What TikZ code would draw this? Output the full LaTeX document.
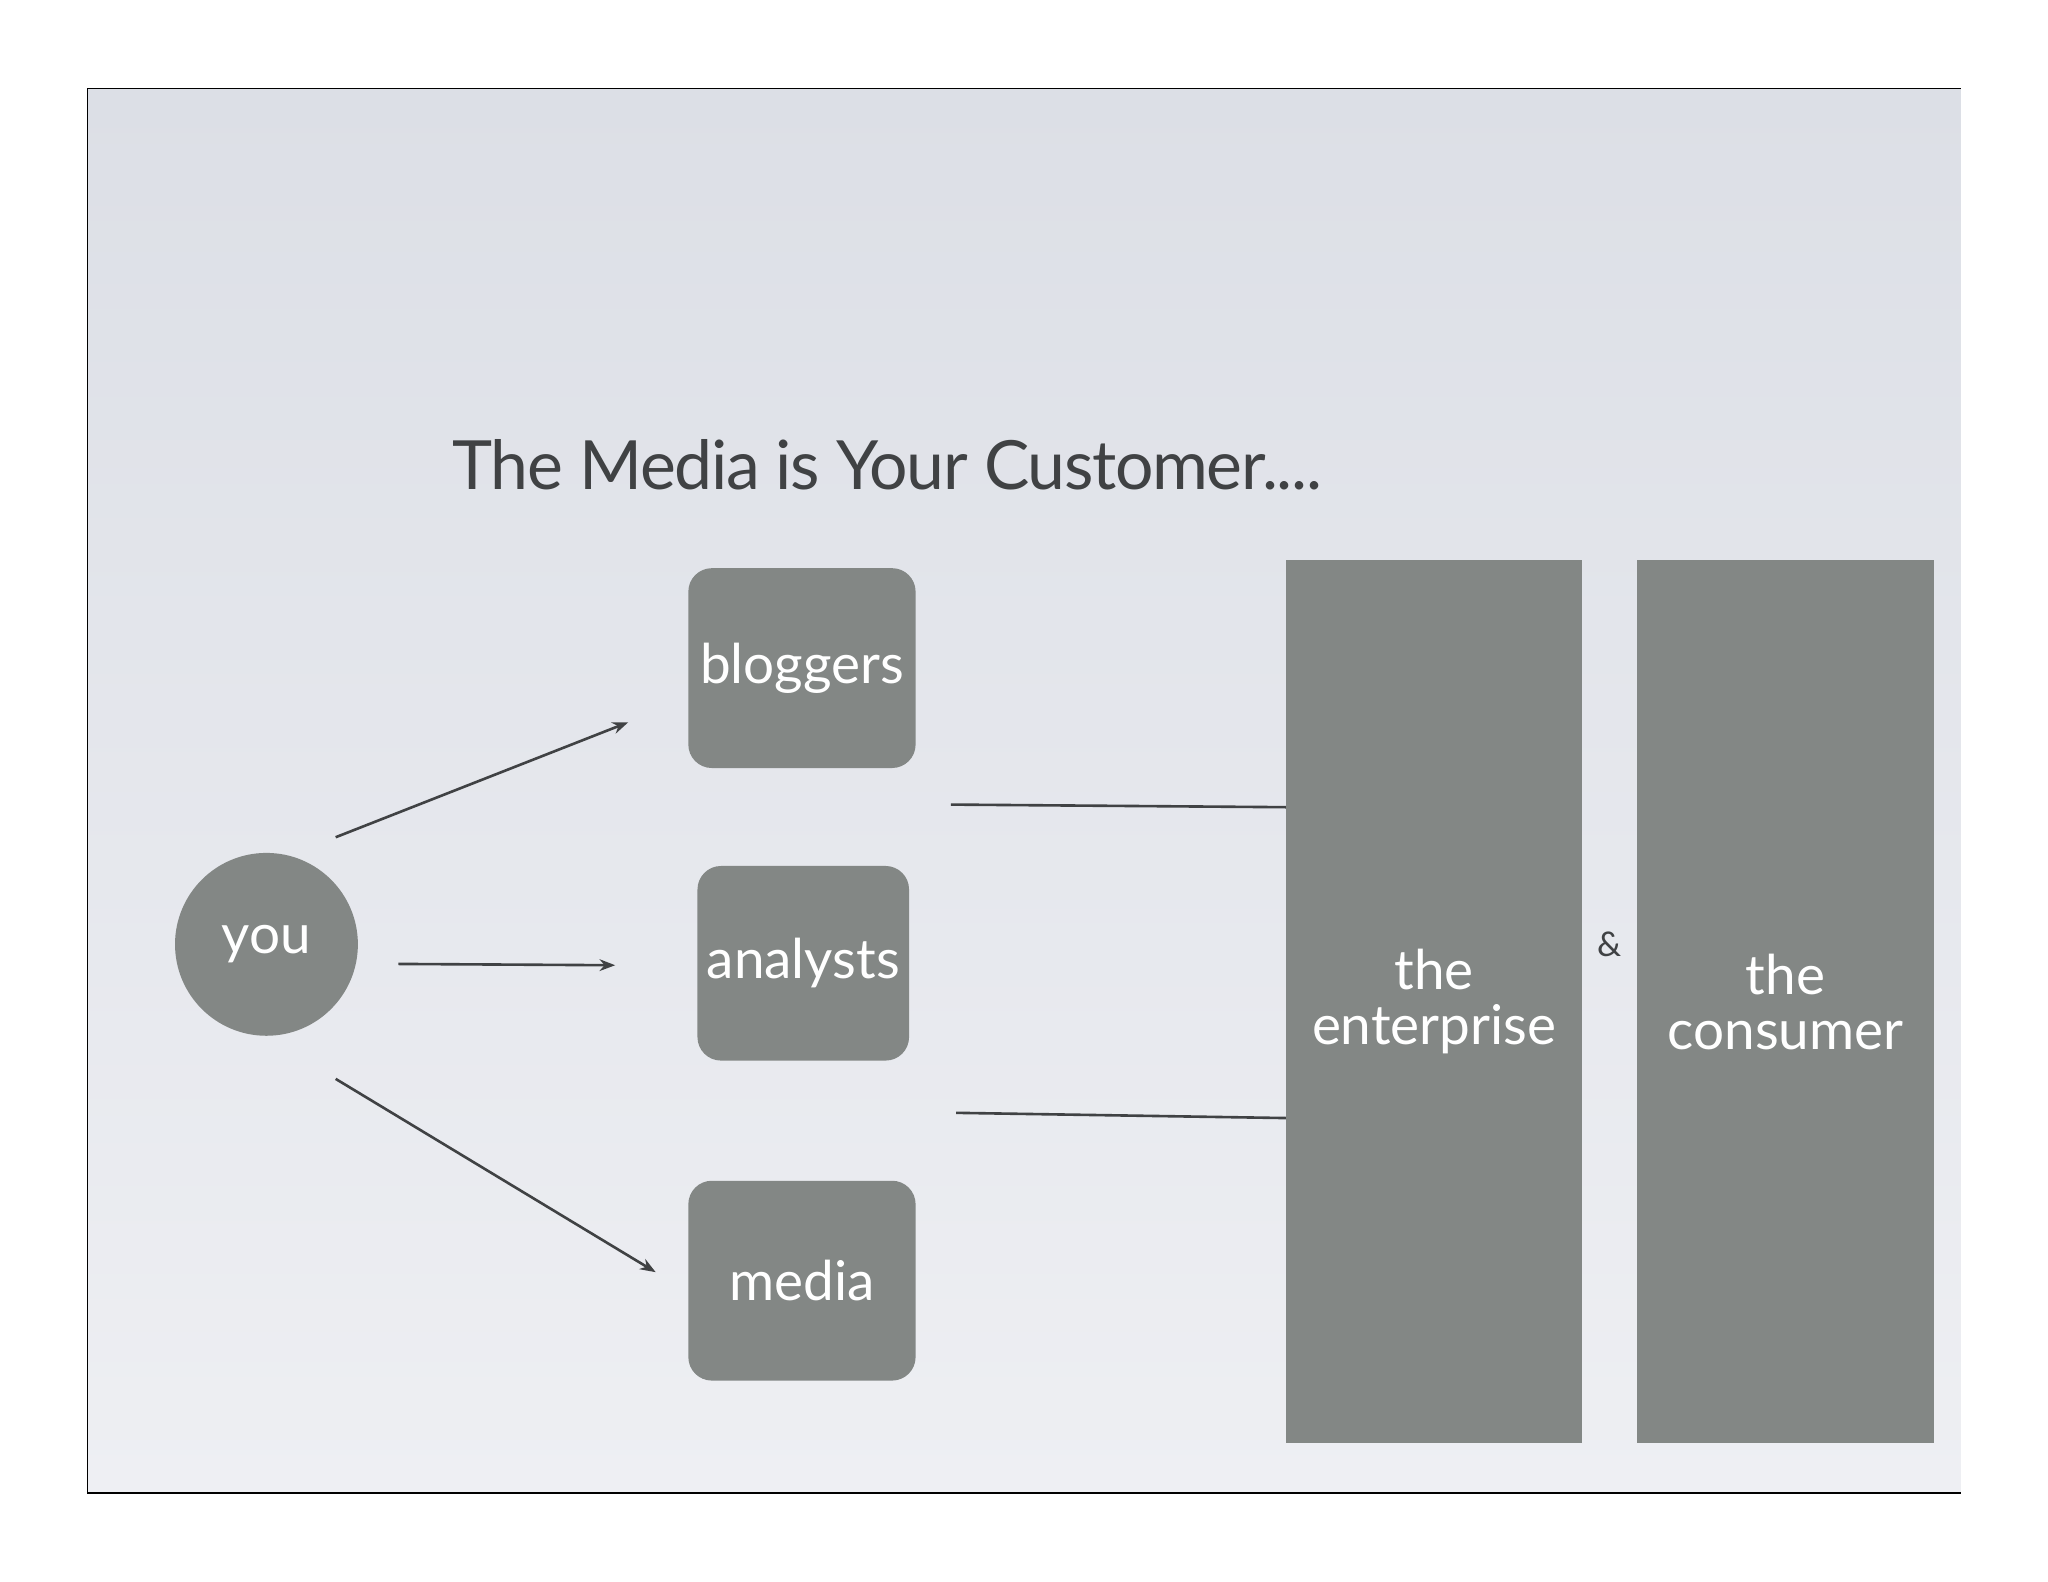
\documentclass[tikz,border=0pt]{standalone}
\usepackage{fontspec}
\setmainfont{Lato}
\usetikzlibrary{arrows.meta}
\begin{document}
\begin{tikzpicture}[x=1pt,y=-1pt,
  boxfill/.style={fill=gboxc,draw=none,text=white,font=\fontsize{42}{48}\selectfont},
  conn/.style={draw=lineg,line width=2pt},
  arr/.style={conn,-{Stealth[length=12pt,width=9pt]}}]
\definecolor{gboxc}{HTML}{838785}
\definecolor{lineg}{HTML}{404244}
\definecolor{bgA}{HTML}{DCDFE6}
\definecolor{bgB}{HTML}{EEEFF3}
\useasboundingbox (0,0) rectangle (1568,1211);
\fill[white] (0,0) rectangle (1568,1211);
\shade[top color=bgA,bottom color=bgB] (67,68) rectangle (1501,1143);
\draw[black,line width=1pt] (1501,68) -- (67,68) -- (67,1143) -- (1501,1143);
\node[anchor=base west,text=lineg,font=\fontsize{52}{60}\selectfont\addfontfeature{LetterSpace=-2}] (title) at (343,375) {The Media is Your Customer....};
\node[boxfill,rounded corners=18pt,minimum width=174pt,minimum height=153pt] (blog) at (614,511.5) {bloggers};
\node[boxfill,rounded corners=18pt,minimum width=162pt,minimum height=149pt] (anal) at (615,737.5) {analysts};
\node[boxfill,rounded corners=18pt,minimum width=174pt,minimum height=153pt] (med) at (614,980.5) {media};
\node[boxfill,circle,minimum size=140pt] (you) at (204,723) {you};
\node[boxfill,minimum width=226pt,minimum height=676pt,align=center,text width=220pt] (ent) at (1098,767) {the\\[-6pt]enterprise};
\node[boxfill,minimum width=226pt,minimum height=676pt,align=center,text width=220pt] (con) at (1367,767) {\raisebox{22pt}{\parbox{220pt}{\centering the\\[-6pt]consumer}}};
\node[text=lineg,font=\fontsize{26}{30}\selectfont] (amp) at (1232,723) {\&};
\coordinate (a1s) at (257,641); \coordinate (a1e) at (481,553);
\coordinate (a2s) at (305,738); \coordinate (a2e) at (471,739);
\coordinate (a3s) at (257,826); \coordinate (a3e) at (502,974);
\draw[arr] (a1s) -- (a1e);
\draw[arr] (a2s) -- (a2e);
\draw[arr] (a3s) -- (a3e);
\coordinate (l1s) at (728,616); \coordinate (l2s) at (732,852);
\draw[conn] (l1s) -- (ent.west |- 0,618);
\draw[conn] (l2s) -- (ent.west |- 0,856);
\end{tikzpicture}
\end{document}
